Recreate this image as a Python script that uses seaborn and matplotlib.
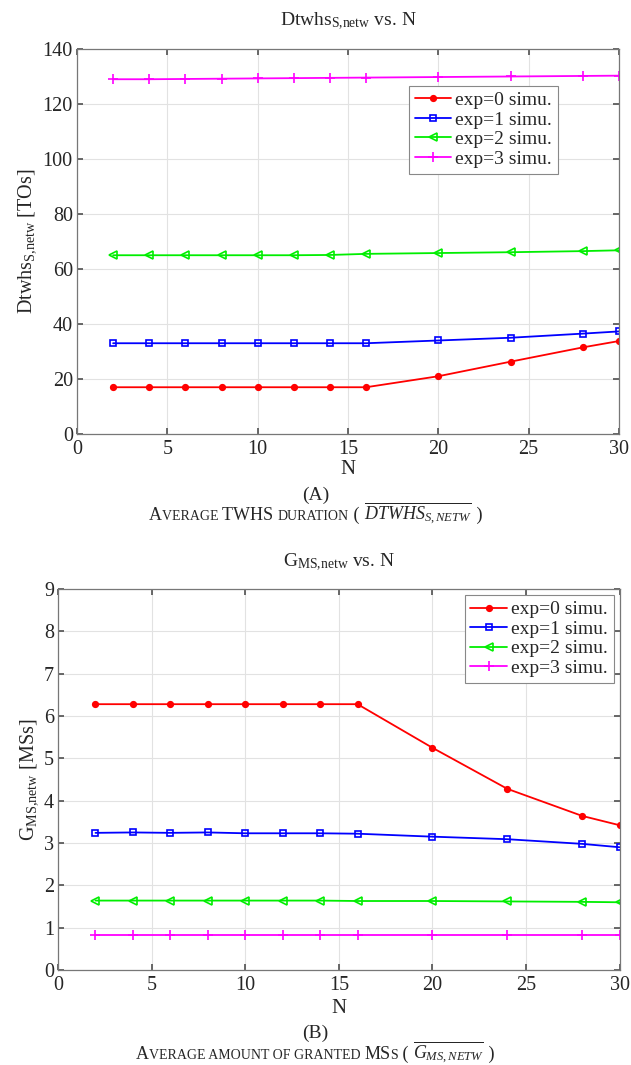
import numpy as np
import pandas as pd
import seaborn as sns
import matplotlib
matplotlib.use("Agg")
import matplotlib.pyplot as plt

# data
n_vals = [2, 4, 6, 8, 10, 12, 14, 16, 20, 24, 28, 30]

dtwhs_exp0 = [17, 17, 17, 17, 17, 17, 17, 17, 21, 26.3, 31.5, 33.8]
dtwhs_exp1 = [33, 33, 33, 33, 33, 33, 33, 33, 34, 35, 36.5, 37.3]
dtwhs_exp2 = [65, 65, 65, 65, 65, 65, 65.1, 65.5, 65.8, 66.1, 66.5, 66.8]
dtwhs_exp3 = [129, 129, 129.1, 129.2, 129.3, 129.4, 129.5, 129.6, 129.8, 130, 130.2, 130.3]

gms_exp0 = [6.28, 6.28, 6.28, 6.28, 6.28, 6.28, 6.28, 6.28, 5.25, 4.28, 3.64, 3.42]
gms_exp1 = [3.24, 3.25, 3.24, 3.25, 3.23, 3.23, 3.23, 3.22, 3.15, 3.09, 2.98, 2.90]
gms_exp2 = [1.64, 1.64, 1.64, 1.64, 1.64, 1.64, 1.64, 1.63, 1.63, 1.62, 1.61, 1.60]
gms_exp3 = [0.83, 0.83, 0.83, 0.83, 0.83, 0.83, 0.83, 0.83, 0.83, 0.83, 0.83, 0.83]

labels = ["exp=0 simu.", "exp=1 simu.", "exp=2 simu.", "exp=3 simu."]
colors = ["#ff0000", "#0000ff", "#00ee00", "#ff00ff"]
markers = ["o", "s", "<", "+"]
msizes = [4, 5, 6, 6.5]
filled = [True, False, False, True]

sns.set_theme(style="ticks")
plt.rcParams["font.family"] = ["Liberation Serif", "DejaVu Serif"]
plt.rcParams["mathtext.fontset"] = "custom"
plt.rcParams["mathtext.rm"] = "Liberation Serif"
plt.rcParams["mathtext.it"] = "Liberation Serif:italic"
plt.rcParams["mathtext.bf"] = "Liberation Serif:bold"

fig = plt.figure(figsize=(6.31, 10.65), dpi=100)
ax1 = fig.add_axes([0.122, 0.5925, 0.859, 0.3615])
ax2 = fig.add_axes([0.092, 0.0892, 0.890, 0.3577])


def draw_panel(ax, series, ylim, yticks, title, ylabel, tpad, xpad):
    for vals, lab, c, m, ms, f in zip(series, labels, colors, markers, msizes, filled):
        df = pd.DataFrame({"N": n_vals, "v": vals})
        sns.lineplot(data=df, x="N", y="v", ax=ax, color=c, marker=m, markersize=ms,
                     markerfacecolor=c if f else "none", markeredgecolor=c,
                     markeredgewidth=1.2, linewidth=1.3, label=lab)
    ax.set_xlim(0, 30)
    ax.set_ylim(*ylim)
    ax.set_xticks(range(0, 31, 5))
    ax.set_yticks(yticks)
    ax.grid(True, color="#e2e2e2", linewidth=0.8)
    ax.set_axisbelow(True)
    ax.tick_params(direction="in", top=True, right=True, labelsize=14.5,
                   color="#555555", length=4)
    ax.tick_params(axis="x", pad=4)
    ax.tick_params(axis="y", pad=3)
    for sp in ax.spines.values():
        sp.set_color("#777777")
        sp.set_linewidth(0.9)
    ax.set_title(title, fontsize=14, pad=tpad)
    ax.set_xlabel("N", fontsize=15, labelpad=xpad)
    ax.set_ylabel(ylabel, fontsize=14.5, labelpad=3)


draw_panel(ax1, [dtwhs_exp0, dtwhs_exp1, dtwhs_exp2, dtwhs_exp3], (0, 140),
           range(0, 141, 20), r"Dtwhs$_{\mathrm{S{,}netw}}$ vs. N",
           r"Dtwhs$_{\mathrm{S{,}netw}}$ [TOs]", 17, 1)
draw_panel(ax2, [gms_exp0, gms_exp1, gms_exp2, gms_exp3], (0, 9),
           range(0, 10), r"G$_{\mathrm{MS{,}netw}}$ vs. N",
           r"G$_{\mathrm{MS{,}netw}}$ [MSs]", 16, 3)

leg_kw = dict(fontsize=14, frameon=True, fancybox=False, framealpha=1,
              edgecolor="#888888", handlelength=1.9, handletextpad=0.2,
              borderpad=0.3, labelspacing=0.1)
leg1 = ax1.legend(loc="upper left", bbox_to_anchor=(0.594, 0.93), **leg_kw)
leg2 = ax2.legend(loc="upper right", bbox_to_anchor=(1.0, 1.0), borderaxespad=0.3, **leg_kw)
for leg in (leg1, leg2):
    leg.get_frame().set_linewidth(0.8)


def caption(y, parts):
    # small-caps style caption made of pieces with different font sizes
    renderer = fig.canvas.get_renderer()
    texts = []
    x = 0.0
    for s, size in parts:
        t = fig.text(x, y, s, fontsize=size, ha="left", va="baseline")
        w = t.get_window_extent(renderer).width / fig.bbox.width
        texts.append((t, x))
        x += w
    shift = 0.5 - x / 2
    for t, x0 in texts:
        t.set_x(x0 + shift)


fig.text(0.5, 0.531, "(A)", fontsize=14, ha="center", va="baseline")
caption(0.512, [("A", 13), ("VERAGE ", 10), ("TWHS ", 13), ("DURATION", 10),
                (" ( ", 13), (r"$\overline{DTWHS_{S,NETW}}$", 13), (" )", 13)])

fig.text(0.5, 0.025, "(B)", fontsize=14, ha="center", va="baseline")
caption(0.006, [("A", 13), ("VERAGE AMOUNT OF GRANTED ", 10), ("MS", 13), ("S", 10),
                (" ( ", 13), (r"$\overline{G_{MS,NETW}}$", 13), (" )", 13)])

fig.savefig("out.png", dpi=100)
